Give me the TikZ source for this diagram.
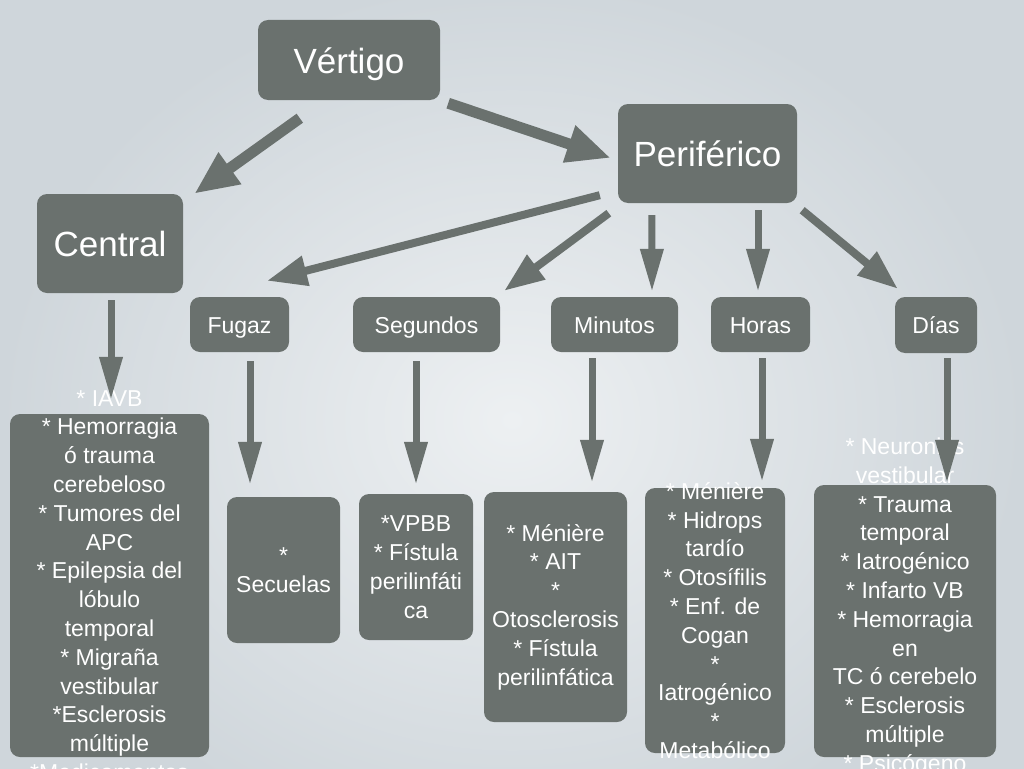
\documentclass[tikz,border=0pt]{standalone}
\usepackage{fontspec}
\setmainfont{Liberation Sans}
\usetikzlibrary{arrows.meta}
\definecolor{boxgray}{RGB}{106,113,110}
\definecolor{bginner}{RGB}{237,240,242}
\definecolor{bgouter}{RGB}{207,214,219}
\begin{document}
\begin{tikzpicture}[x=1pt,y=-1pt,
    box/.style={fill=boxgray,rounded corners=10pt,inner sep=0pt,text=white},
    big/.style={font=\fontsize{35}{40}\selectfont,text height=26pt,text depth=0pt},
    small/.style={font=\fontsize{23}{28}\selectfont,text height=17pt,text depth=0pt},
    list/.style={text=white,align=center,inner sep=0pt,font=\fontsize{23}{28.8}\selectfont},
    arrbig/.style={draw=boxgray,line width=11pt,-{Triangle[length=44pt,width=36pt]}},
    arrmid/.style={draw=boxgray,line width=8pt,-{Triangle[length=40pt,width=29pt]}},
    arrdown/.style={draw=boxgray,line width=7pt,-{Triangle[length=43pt,width=22pt]}}]
    \useasboundingbox (0,0) rectangle (1024,768);
    \shade[inner color=bginner,outer color=bgouter] (0,-20) rectangle (1024,860);
    % upper level
    \node[box,big,minimum width=182pt,minimum height=80pt] (vert) at (349,60) {Vértigo};
    \node[box,big,minimum width=179pt,minimum height=99pt] (peri) at (707.5,153.5) {Periférico};
    \node[box,big,minimum width=146pt,minimum height=99pt] (cent) at (110,243.5) {Central};
    % duration
    \node[box,small,minimum width=99pt,minimum height=55pt] (fugaz) at (239.5,324.5) {Fugaz};
    \node[box,small,minimum width=147pt,minimum height=55pt] (seg) at (426.5,324.5) {Segundos};
    \node[box,small,minimum width=127pt,minimum height=55pt] (min) at (614.5,324.5) {Minutos};
    \node[box,small,minimum width=99pt,minimum height=55pt] (horas) at (760.5,324.5) {Horas};
    \node[box,small,minimum width=82pt,minimum height=56pt] (dias) at (936,325) {Días};
    % lists
    \node[box,minimum width=199pt,minimum height=343pt] (centlist) at (109.5,585.5) {};
    \node[box,minimum width=113pt,minimum height=146pt] (fugazlist) at (283.5,570) {};
    \node[box,minimum width=114pt,minimum height=146pt] (seglist) at (416,567) {};
    \node[box,minimum width=143pt,minimum height=230pt] (minlist) at (555.5,607) {};
    \node[box,minimum width=140pt,minimum height=265pt] (horaslist) at (715,620.5) {};
    \node[box,minimum width=182pt,minimum height=272pt] (diaslist) at (905,621) {};
    \node[list] (centtxt) at (centlist.center) {* IAVB\\* Hemorragia\\ó trauma\\cerebeloso\\* Tumores del\\APC\\* Epilepsia del\\lóbulo\\temporal\\* Migraña\\vestibular\\*Esclerosis\\múltiple\\*Medicamentos};
    \node[list] (fugaztxt) at (fugazlist.center) {*\\Secuelas};
    \node[list] (segtxt) at (seglist.center) {*VPBB\\* Fístula\\perilinfáti\\ca};
    \node[list] (mintxt) at (minlist.center) {* Ménière\\* AIT\\*\\Otosclerosis\\* Fístula\\perilinfática};
    \node[list] (horastxt) at (horaslist.center) {* Ménière\\* Hidrops\\tardío\\* Otosífilis\\* Enf. de\\Cogan\\*\\Iatrogénico\\*\\Metabólico};
    \node[list] (diastxt) at ([yshift=14pt]diaslist.center) {* Neuronitis\\vestibular\\* Trauma\\temporal\\* Iatrogénico\\* Infarto VB\\* Hemorragia\\en\\TC ó cerebelo\\* Esclerosis\\múltiple\\* Psicógeno};
    % arrows
    \draw[arrbig] ([xshift=42pt,yshift=-18pt]vert.south west) -- ([xshift=11pt]cent.north east);
    \draw[arrbig] ([xshift=8pt,yshift=-3pt]vert.south east) -- ([xshift=-7pt,yshift=-4.5pt]peri.west);
    \draw[arrmid] ([xshift=-18pt,yshift=8pt]peri.south west) -- ([xshift=27.5pt,yshift=16pt]fugaz.north);
    \draw[arrmid] ([xshift=-9pt,yshift=-10pt]peri.south west) -- ([xshift=4pt,yshift=6pt]seg.north east);
    \draw[arrdown] ([xshift=34pt,yshift=-12pt]peri.south west) -- ([xshift=37.5pt,yshift=5pt]min.north);
    \draw[arrdown] ([xshift=50.5pt,yshift=-7pt]peri.south) -- ([xshift=-2.5pt,yshift=5pt]horas.north);
    \draw[arrmid] ([xshift=5pt,yshift=-7pt]peri.south east) -- ([xshift=3pt,yshift=8pt]dias.north west);
    \draw[arrdown] ([xshift=1pt,yshift=-7pt]cent.south) -- ([xshift=1.5pt,yshift=14pt]centlist.north);
    \draw[arrdown] ([xshift=10.5pt,yshift=-9pt]fugaz.south) -- ([xshift=-33.5pt,yshift=12pt]fugazlist.north);
    \draw[arrdown] ([xshift=-10.5pt,yshift=-9pt]seg.south) -- ([yshift=9pt]seglist.north);
    \draw[arrdown] ([xshift=-22.5pt,yshift=-6pt]min.south) -- ([xshift=36.5pt,yshift=9pt]minlist.north);
    \draw[arrdown] ([xshift=1.5pt,yshift=-6pt]horas.south) -- ([xshift=47pt,yshift=6pt]horaslist.north);
    \draw[arrdown] ([xshift=11pt,yshift=-5pt]dias.south) -- ([xshift=42pt,yshift=2pt]diaslist.north);
\end{tikzpicture}
\end{document}
